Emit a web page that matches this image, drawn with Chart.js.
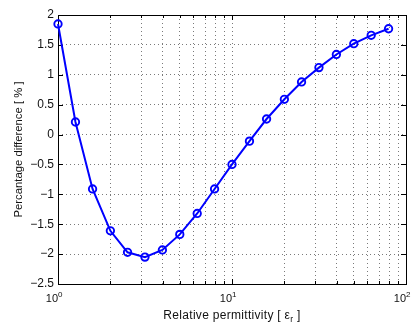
<!DOCTYPE html>
<html>
<head>
<meta charset="utf-8">
<script src="https://cdn.jsdelivr.net/npm/chart.js@4"></script>
<style>
  html, body { margin: 0; padding: 0; background: #fff; }
</style>
</head>
<body>
<canvas id="chart" width="416" height="325"></canvas>
<script>
const permittivity = [1, 1.26, 1.58, 2, 2.51, 3.16, 3.98, 5.01, 6.31, 7.94, 10, 12.6, 15.8, 20, 25.1, 31.6, 39.8, 50.1, 63.1, 79.4]
const difference = [1.85, 0.21, -0.91, -1.61, -1.97, -2.05, -1.93, -1.67, -1.32, -0.91, -0.50, -0.11, 0.26, 0.59, 0.88, 1.12, 1.34, 1.52, 1.66, 1.77]
const xTicks = [1, 2, 3, 4, 5, 6, 7, 8, 9, 10, 20, 30, 40, 50, 60, 70, 80, 90, 100]
const xMajor = [1, 10, 100]
const xExponents = ['0', '1', '2']

const FONT = '"Liberation Sans", Arial, sans-serif'
const TEXT = '#111'

// box, inward ticks, decade labels and the x title with a subscript
const axesBox = {
    id: 'axesBox',
    beforeDatasetsDraw(chart) {
        const {ctx, chartArea: a, scales: {x, y}} = chart
        ctx.save()
        ctx.strokeStyle = '#000'
        ctx.lineWidth = 1
        ctx.beginPath()
        xTicks.forEach(v => {
            const px = Math.round(x.getPixelForValue(v)) + 0.5
            const len = xMajor.includes(v) ? 5 : 3
            ctx.moveTo(px, a.bottom)
            ctx.lineTo(px, a.bottom - len)
            ctx.moveTo(px, a.top)
            ctx.lineTo(px, a.top + len)
        })
        y.ticks.forEach(t => {
            const py = Math.round(y.getPixelForValue(t.value)) + 0.5
            ctx.moveTo(a.left, py)
            ctx.lineTo(a.left + 5, py)
            ctx.moveTo(a.right, py)
            ctx.lineTo(a.right - 5, py)
        })
        ctx.stroke()
        ctx.strokeRect(Math.round(a.left) + 0.5, Math.round(a.top) + 0.5,
            Math.round(a.right - a.left), Math.round(a.bottom - a.top))
        ctx.restore()
    },
    afterDraw(chart) {
        const {ctx, chartArea: a, scales: {x}} = chart
        ctx.save()
        ctx.fillStyle = TEXT
        ctx.textBaseline = 'alphabetic'
        ctx.textAlign = 'left'
        xMajor.forEach((v, i) => {
            ctx.font = '11px ' + FONT
            const baseW = ctx.measureText('10').width
            ctx.font = '8px ' + FONT
            const supW = ctx.measureText(xExponents[i]).width
            let left = x.getPixelForValue(v) - baseW
            if (left + baseW + supW > chart.width) left = chart.width - baseW - supW
            ctx.font = '11px ' + FONT
            ctx.fillText('10', left, 302)
            ctx.font = '8px ' + FONT
            ctx.fillText(xExponents[i], left + baseW, 297)
        })

        ctx.letterSpacing = '0.3px'
        const parts = [
            ['Relative permittivity [ \u03b5', 12, 0],
            ['r', 8.5, 3],
            [' ]', 12, 0]
        ]
        let total = 0
        parts.forEach(p => {
            ctx.font = p[1] + 'px ' + FONT
            p.push(ctx.measureText(p[0]).width)
            total += p[3]
        })
        let cx = (a.left + a.right) / 2 - total / 2
        parts.forEach(p => {
            ctx.font = p[1] + 'px ' + FONT
            ctx.fillText(p[0], cx, 319 + p[2])
            cx += p[3]
        })
        ctx.restore()
    }
}

new Chart('chart', {
    type: 'line',
    data: {
        datasets: [{
            data: permittivity.map((p, i) => ({x: p, y: difference[i]})),
            borderColor: '#0000ff',
            borderWidth: 2,
            pointRadius: 3.7,
            pointBorderWidth: 1.9,
            pointBorderColor: '#0000ff',
            pointBackgroundColor: 'rgba(0,0,0,0)',
            tension: 0,
            clip: false
        }]
    },
    options: {
        responsive: false,
        animation: false,
        devicePixelRatio: 1,
        layout: {padding: {top: 15, right: 10, left: 0, bottom: 0}},
        plugins: {legend: {display: false}, tooltip: {enabled: false}},
        scales: {
            x: {
                type: 'logarithmic',
                min: 1,
                max: 100,
                afterBuildTicks: s => { s.ticks = xTicks.map(v => ({value: v})) },
                afterFit: s => { s.height = 41 },
                ticks: {display: false},
                grid: {
                    drawTicks: false,
                    lineWidth: 1,
                    color: c => (c.tick && (c.tick.value === 1 || c.tick.value === 100)) ? 'rgba(0,0,0,0)' : '#7a7a7a'
                },
                border: {display: false, dash: [1, 3]}
            },
            y: {
                min: -2.5,
                max: 2,
                afterFit: s => { s.width = 58 },
                ticks: {
                    stepSize: 0.5,
                    padding: 4,
                    color: TEXT,
                    font: {size: 12, family: FONT},
                    callback: v => String(v).replace('-', '\u2212')
                },
                grid: {
                    drawTicks: false,
                    lineWidth: 1,
                    color: c => (c.tick && (c.tick.value === 2 || c.tick.value === -2.5)) ? 'rgba(0,0,0,0)' : '#7a7a7a'
                },
                border: {display: false, dash: [1, 3]},
                title: {
                    display: true,
                    text: 'Percantage difference [ % ]',
                    color: TEXT,
                    font: {size: 11.3, family: FONT},
                    padding: {top: 12, bottom: 0}
                }
            }
        }
    },
    plugins: [axesBox]
})
</script>
</body>
</html>
